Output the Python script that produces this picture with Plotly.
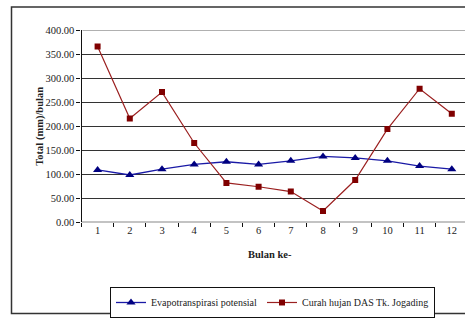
import plotly.graph_objects as go

months = [1, 2, 3, 4, 5, 6, 7, 8, 9, 10, 11, 12]
month_labels = [str(m) for m in months]
evapotranspirasi = [109, 98.5, 110.5, 120.5, 126, 120.5, 128, 137, 134, 128, 117, 110.5]
curah_hujan = [366, 216, 271, 165, 82, 74, 64, 23.5, 88, 194, 278, 226]
y_ticks = [0, 50, 100, 150, 200, 250, 300, 350, 400]
y_tick_labels = [f"{v:.2f}" for v in y_ticks]

W, H = 465, 321
px_x = lambda p: p / W
px_y = lambda p: 1 - p / H

FONT = "Liberation Serif"

fig = go.Figure()
fig.add_trace(go.Scatter(
    x=months, y=evapotranspirasi, mode="lines+markers",
    name="Evapotranspirasi potensial",
    line=dict(color="#1a1aa6", width=1.3),
    marker=dict(symbol="triangle-up", size=8, color="#000080"),
))
fig.add_trace(go.Scatter(
    x=months, y=curah_hujan, mode="lines+markers",
    name="Curah hujan DAS Tk. Jogading",
    line=dict(color="#9b2020", width=1.2),
    marker=dict(symbol="square", size=6, color="#800000"),
))

x_left, x_right = 81.5, 465
y_top, y_bot = 26, 225
cat_w = 32.2
fig.update_layout(
    width=W, height=H,
    margin=dict(l=0, r=0, t=0, b=0),
    paper_bgcolor="white", plot_bgcolor="white",
    font=dict(family=FONT, size=10.5, color="#222"),
    showlegend=True,
    legend=dict(
        orientation="h", x=px_x(110), xanchor="left", y=px_y(292), yanchor="top",
        bordercolor="#111", borderwidth=1, bgcolor="white",
        font=dict(family=FONT, size=10, color="#222"),
        itemwidth=30, tracegroupgap=0,
    ),
    xaxis=dict(
        domain=[px_x(x_left), 1],
        range=[0.5, 0.5 + (x_right - x_left) / cat_w],
        tickmode="array", tickvals=months, ticktext=month_labels,
        ticks="", showgrid=False, zeroline=False,
        showline=False,
        minor=dict(tick0=0.5, dtick=1, ticks="outside", ticklen=4, tickcolor="#111", showgrid=False),
        tickfont=dict(family=FONT, size=10.5, color="#222"),
        fixedrange=True,
    ),
    yaxis=dict(
        domain=[px_y(y_bot), px_y(y_top)],
        range=[0, 400],
        tickmode="array", tickvals=y_ticks, ticktext=y_tick_labels,
        ticks="outside", ticklen=4, tickcolor="#111",
        showgrid=True, gridcolor="#333", gridwidth=1.3,
        zeroline=False, showline=True, linecolor="#111", linewidth=1.3,
        tickfont=dict(family=FONT, size=10.5, color="#222"),
        fixedrange=True,
    ),
)

# x axis line at y=0 (plot bottom)
fig.add_shape(type="line", xref="paper", yref="y", x0=px_x(x_left), x1=1, y0=0, y1=0,
              line=dict(color="#111", width=1.3), layer="above")
# lighter top gridline (covers the dark grid line at 400)
fig.add_shape(type="line", xref="paper", yref="y", x0=px_x(x_left + 1), x1=1, y0=400, y1=400,
              line=dict(color="#b0b0b0", width=1.8), layer="above")
# outer chart border
fig.add_shape(type="rect", xref="paper", yref="paper",
              x0=px_x(11.5), x1=px_x(475), y0=px_y(319.5), y1=px_y(2),
              line=dict(color="#333", width=1.5), layer="below")

fig.add_annotation(text="<b>Total (mm)/bulan</b>", xref="paper", yref="paper",
                   x=px_x(32), y=px_y(126), textangle=-90, showarrow=False,
                   font=dict(family=FONT, size=10.5, color="#222"))
fig.add_annotation(text="<b>Bulan ke-</b>", xref="paper", yref="paper",
                   x=px_x(270), y=px_y(266), showarrow=False,
                   font=dict(family=FONT, size=10.5, color="#222"))

fig.write_html("out.html")
